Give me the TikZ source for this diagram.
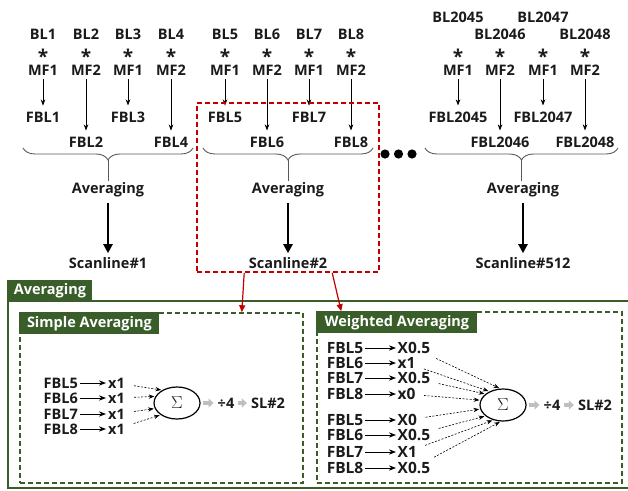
\documentclass[tikz,border=0pt]{standalone}
\usepackage{fontspec}
\setmainfont{Open Sans}
\usetikzlibrary{positioning, arrows.meta, shapes.geometric, decorations.pathreplacing, calc}
\definecolor{avggreen}{HTML}{3A5E29}
\definecolor{selred}{HTML}{C00000}
\definecolor{flowgray}{HTML}{BFBFBF}
\definecolor{txtdark}{HTML}{1A1A1A}

\begin{document}
\begin{tikzpicture}[
    x=1pt, y=-1pt,
    every node/.style={font=\fontsize{14.5}{16}\selectfont\bfseries, text=txtdark, inner sep=2pt},
    star/.style={anchor=base, inner sep=0pt, font=\fontsize{19}{19}\selectfont\bfseries},
    wrow/.style={font=\fontsize{15.5}{16}\selectfont\bfseries, inner sep=1.5pt},
    maparrow/.style={->, line width=0.7pt, shorten >=4pt, shorten <=2pt},
    avgarrow/.style={-{Triangle[length=9pt,width=9pt]}, line width=2pt, shorten <=4pt, shorten >=2pt},
    groupbrace/.style={decorate, decoration={brace, mirror, amplitude=12pt}, line width=0.9pt, draw=black!65},
    selbox/.style={draw=selred, dashed, dash pattern=on 5pt off 3pt, line width=1.6pt, inner sep=0pt},
    selarrow/.style={-{Triangle[length=7pt,width=6pt]}, line width=1.2pt, draw=selred},
    dashbox/.style={draw=avggreen, dash pattern=on 5pt off 3pt, line width=1.6pt, inner sep=0pt},
    tab/.style={fill=avggreen, text=white, minimum height=22pt, inner xsep=4pt, inner ysep=0pt},
    wtarrow/.style={->, line width=0.9pt},
    dasharrow/.style={->, dashed, dash pattern=on 2pt off 1.5pt, line width=0.6pt, shorten <=7pt, shorten >=1pt},
    sumnode/.style={draw, ellipse, line width=1.2pt, minimum width=46pt, minimum height=32pt, inner sep=0pt, font=\fontsize{19}{19}\selectfont},
    grayarrow/.style={-{Triangle[length=5pt,width=9pt]}, line width=4.5pt, draw=flowgray, shorten <=2pt, shorten >=2pt},
    >=Stealth,
  ]
  \useasboundingbox (0,0) rectangle (628,490);

  % products of beam lines and matched filters
  \foreach \x/\n/\m/\by/\fy in {43/1/1/34/117, 86/2/2/34/142, 128/3/1/34/117, 171/4/2/34/142,
      225/5/1/34/117, 267/6/2/34/142, 309/7/1/34/117, 351/8/2/34/142,
      458/2045/1/17/117, 500/2046/2/34/142, 543/2047/1/17/117, 585/2048/2/34/142}{
    \node (bl\n) at (\x,\by) {BL\n};
    \node[star] (st\n) at (\x,63) {*};
    \node (mf\n) at (\x,70) {MF\m};
    \node (fbl\n) at (\x,\fy) {FBL\n};
    \draw[maparrow] (mf\n) -- (fbl\n);
  }

  % braces and averaging
  \draw[groupbrace] (23,148) -- (193,148);
  \draw[groupbrace] (203,148) -- (373,148);
  \draw[groupbrace] (425,148) -- (618,148);
  \coordinate (tip1) at (108,160);
  \coordinate (tip2) at (288,160);
  \coordinate (tip3) at (521.5,160);

  \node (avg1) at (108,190) {Averaging};
  \node (avg2) at (288,190) {Averaging};
  \node (avg3) at (523,190) {Averaging};
  \node (scan1) at (108,263) {Scanline\#1};
  \node (scan2) at (288,263) {Scanline\#2};
  \node (scan3) at (523,263) {Scanline\#512};

  \draw[line width=0.9pt, draw=black!65] (tip1) -- (avg1);
  \draw[line width=0.9pt, draw=black!65] (tip2) -- (avg2);
  \draw[line width=0.9pt, draw=black!65] (tip3) -- (avg3.north -| tip3);
  \draw[avgarrow] (avg1) -- (scan1);
  \draw[avgarrow] (avg2) -- (scan2);
  \draw[avgarrow] (avg3) -- (scan3);

  % dots
  \foreach \x in {385,398.5,412}
    \fill[black] (\x,154) circle (4.6pt);

  % selected scanline
  \node[selbox, minimum width=182pt, minimum height=169pt] (sel) at (288,187.5) {};

  % averaging panel
  \draw[avggreen, line width=1.6pt] (640,301) -- (8,301) -- (8,488) -- (640,488);
  \node[tab, anchor=south west, minimum width=85pt] (otab) at (7.2,301.8) {Averaging};

  \node[dashbox, minimum width=283pt, minimum height=170pt] (sbox) at (161.5,398) {};
  \node[dashbox, minimum width=305pt, minimum height=171pt] (wbox) at (469.5,397.5) {};
  \node[tab, anchor=north west, minimum width=140pt] (stab) at (sbox.north west) {Simple Averaging};
  \node[tab, anchor=north west, minimum width=161pt] (wtab) at (wbox.north west) {Weighted Averaging};

  \draw[selarrow] ($(sel.south west)+(48,0)$) -- ($(sbox.north east)+(-62,0)$);
  \draw[selarrow] ($(sel.south west)+(136,0)$) -- ($(wbox.north west)+(25,0)$);

  % simple averaging
  \node[sumnode] (sum1) at (177,403) {$\Sigma$};
  \foreach \i/\y/\a in {5/383/139, 6/398/163, 7/414/194, 8/429/216}{
    \node[anchor=east] (sf\i) at (80,\y) {FBL\i};
    \node[anchor=west] (sx\i) at (106,\y) {x1};
    \draw[wtarrow] (sf\i) -- (sx\i);
    \draw[dasharrow] (sx\i) -- (sum1.\a);
  }
  \node (div1) at (226,403) {÷4};
  \node (sl1) at (268,403) {SL\#2};
  \draw[grayarrow] (sum1) -- (div1);
  \draw[grayarrow] (div1) -- (sl1);

  % weighted averaging
  \node[sumnode] (sum2) at (503,405) {$\Sigma$};
  \foreach \i/\f/\w/\y/\a in {1/5/X0.5/348/100, 2/6/x1/363/135, 3/7/X0.5/378/148, 4/8/x0/394/168,
      5/5/X0/420/190, 6/6/X0.5/435/212, 7/7/X1/452/237, 8/8/X0.5/468/262}{
    \node[wrow, anchor=east] (wf\i) at (365,\y) {FBL\f};
    \node[wrow, anchor=west] (wx\i) at (396,\y) {\w};
    \draw[wtarrow] (wf\i) -- (wx\i);
    \draw[dasharrow] (wx\i) -- (sum2.\a);
  }
  \node (div2) at (552,405) {÷4};
  \node (sl2) at (595,405) {SL\#2};
  \draw[grayarrow] (sum2) -- (div2);
  \draw[grayarrow] (div2) -- (sl2);
\end{tikzpicture}
\end{document}
